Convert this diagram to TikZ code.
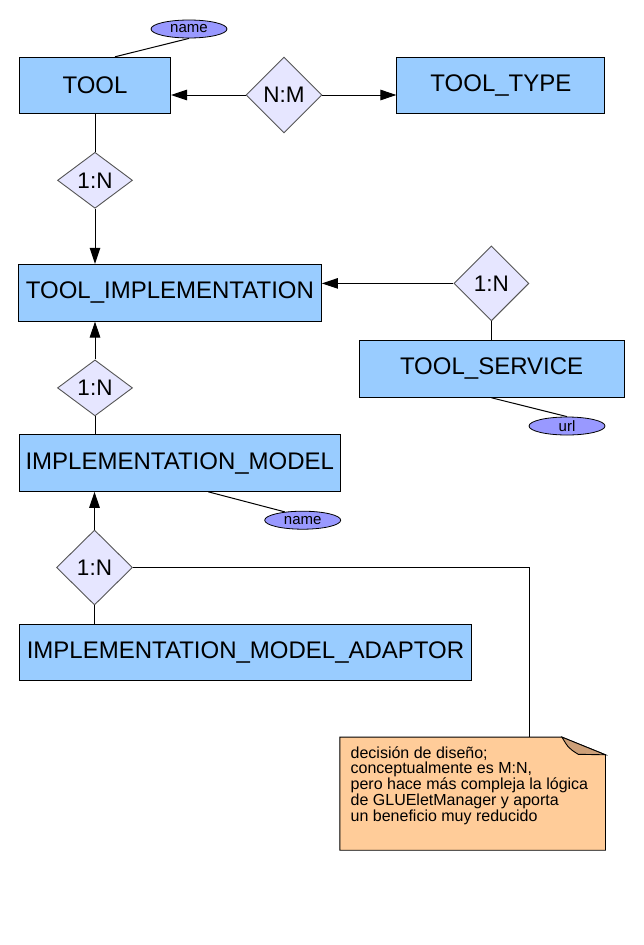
\documentclass[tikz,border=0pt]{standalone}
\usepackage{fontspec}
\setmainfont{Liberation Sans}
\usepackage{xcolor}
\usetikzlibrary{shapes.geometric,arrows.meta}
\definecolor{entblue}{HTML}{99CCFF}
\definecolor{rellav}{HTML}{E6E6FF}
\definecolor{relgray}{HTML}{555555}
\definecolor{attrviolet}{HTML}{9999FF}
\definecolor{notepeach}{HTML}{FFCC99}
\definecolor{notefold}{HTML}{CC9F78}
\begin{document}
\begin{tikzpicture}[x=1pt,y=-1pt,
	entity/.style={draw,fill=entblue,line width=1pt,inner sep=0pt,font=\fontsize{24}{28}\selectfont},
	rel/.style={diamond,draw=relgray,fill=rellav,line width=0.9pt,inner sep=0pt,font=\fontsize{22.5}{27}\selectfont},
	attr/.style={ellipse,draw,fill=attrviolet,line width=0.8pt,inner sep=0pt,minimum width=76pt,minimum height=18pt,font=\fontsize{15}{18}\selectfont},
	link/.style={line width=1pt},
	arr/.style={line width=1pt,-{Triangle[length=16pt,width=10.5pt]}}]
			\useasboundingbox (0,0) rectangle (643,945);
			% Vẽ thực thể
			\node[entity,minimum width=151pt,minimum height=56pt] (tool) at (95,85.3) {TOOL};
			\node[entity,minimum width=208pt,minimum height=56pt] (tooltype) at (500.9,85.2) {TOOL\_TYPE};
			\node[entity,minimum width=303pt,minimum height=56.7pt] (toolimpl) at (169.9,292.7) {TOOL\_IMPLEMENTATION};
			\node[entity,minimum width=265pt,minimum height=56.6pt] (toolserv) at (491.6,369) {TOOL\_SERVICE};
			\node[entity,minimum width=321pt,minimum height=56.6pt] (implmodel) at (179.8,463) {IMPLEMENTATION\_MODEL};
			\node[entity,minimum width=452.4pt,minimum height=55.7pt] (impladapt) at (245.5,652.2) {IMPLEMENTATION\_MODEL\_ADAPTOR};
			% Vẽ quan hệ
			\node[rel,minimum width=76pt,minimum height=76pt] (relnm) at (284,95) {N:M};
			\node[rel,minimum width=75pt,minimum height=56pt] (relone) at (95,180.3) {1:N};
			\node[rel,minimum width=75pt,minimum height=75pt] (reltwo) at (491.4,283.4) {1:N};
			\node[rel,minimum width=75pt,minimum height=56pt] (relthree) at (95,387.9) {1:N};
			\node[rel,minimum width=76pt,minimum height=75pt] (relfour) at (94.5,567.5) {1:N};
			% Vẽ thuộc tính
			\node[attr] (toolname) at (189,29) {name};
			\node[attr] (servurl) at (567,426) {url};
			\node[attr] (modelname) at (302.7,520.2) {name};
			\draw[link] ([xshift=20pt]tool.north) -- (toolname.south);
			\draw[link] (toolserv.south) -- (servurl.north);
			\draw[link] ([xshift=28.4pt]implmodel.south) -- (modelname.155);
			% Vẽ liên kết
			\draw[arr] (relnm.west) -- (relnm.west -| tool.east);
			\draw[arr] (relnm.east) -- (relnm.east -| tooltype.west);
			\draw[link] (tool.south) -- (relone.north);
			\draw[arr] (relone.south) -- (relone.south |- toolimpl.north);
			\draw[arr] (reltwo.west) -- (reltwo.west -| toolimpl.east);
			\draw[link] (reltwo.south) -- (reltwo.south |- toolserv.north);
			\draw[arr] (relthree.north) -- (relthree.north |- toolimpl.south);
			\draw[link] (relthree.south) -- (relthree.south |- implmodel.north);
			\draw[arr] (relfour.north) -- (relfour.north |- implmodel.south);
			\draw[link] (relfour.south) -- (relfour.south |- impladapt.north);
			% Vẽ ghi chú
			\node[minimum width=265.3pt,minimum height=112.7pt,inner sep=0pt] (note) at (472.65,793.65) {};
			\draw[line width=0.9pt,fill=notepeach] (note.north west) -- ([xshift=-43.6pt]note.north east) -- ([yshift=-17.7pt]note.north east) -- (note.south east) -- (note.south west) -- cycle;
			\draw[line width=0.9pt,fill=notefold] ([xshift=-43.6pt]note.north east) .. controls ([xshift=-37pt,yshift=-11pt]note.north east) .. ([xshift=-27.3pt,yshift=-17.2pt]note.north east) -- ([yshift=-17.7pt]note.north east) -- cycle;
			\node[anchor=north west,inner sep=0pt,align=left,font=\fontsize{16}{15.85}\selectfont] (notetext) at ([xshift=10.7pt,yshift=-9pt]note.north west) {decisión de diseño;\\conceptualmente es M:N,\\pero hace más compleja la lógica\\de GLUEletManager y aporta\\un beneficio muy reducido};
			\draw[link] (relfour.east) -| ([xshift=56.7pt]note.north);
		\end{tikzpicture}
\end{document}
